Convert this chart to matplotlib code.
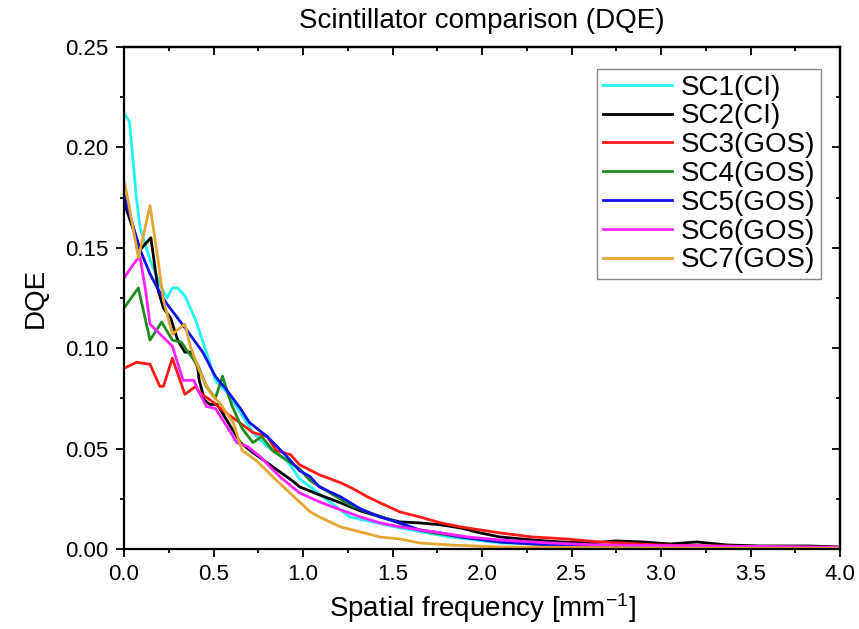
import matplotlib
matplotlib.use("Agg")
import matplotlib.pyplot as plt
from matplotlib.ticker import MultipleLocator

plt.rcParams.update({
    'font.family': ['Liberation Sans', 'DejaVu Sans'],
    'mathtext.default': 'regular',
})

# values
sc1_f = [0.0, 0.03, 0.07, 0.09, 0.145, 0.21, 0.24, 0.27, 0.30, 0.34, 0.40, 0.46, 0.51, 0.575, 0.65,
         0.72, 0.80, 0.91, 0.98, 1.26, 1.54, 1.82, 2.10, 2.66, 3.2, 4.0]
sc1_d = [0.217, 0.213, 0.174, 0.160, 0.144, 0.130, 0.125, 0.130, 0.130, 0.126, 0.114, 0.098, 0.084, 0.078, 0.068,
         0.058, 0.051, 0.044, 0.035, 0.016, 0.0105, 0.006, 0.003, 0.0015, 0.001, 0.0008]

sc2_f = [0.0, 0.01, 0.09, 0.15, 0.19, 0.22, 0.26, 0.30, 0.34, 0.37, 0.41, 0.42, 0.45, 0.48, 0.52, 0.575,
         0.65, 0.72, 0.83, 0.94, 0.98, 1.09, 1.21, 1.32, 1.43, 1.54, 1.65, 1.77, 1.88, 1.99, 2.10, 2.28,
         2.44, 2.60, 2.75, 2.90, 3.05, 3.20, 3.37, 3.55, 3.83, 4.0]
sc2_d = [0.176, 0.170, 0.149, 0.155, 0.129, 0.120, 0.115, 0.104, 0.098, 0.098, 0.091, 0.084, 0.074, 0.072, 0.072, 0.064,
         0.053, 0.048, 0.041, 0.034, 0.031, 0.027, 0.023, 0.019, 0.016, 0.0135, 0.013, 0.012, 0.0105, 0.008, 0.006, 0.0045,
         0.0035, 0.003, 0.004, 0.0035, 0.0025, 0.0035, 0.002, 0.0015, 0.0015, 0.001]

sc3_f = [0.0, 0.07, 0.145, 0.20, 0.22, 0.27, 0.34, 0.40, 0.42, 0.50, 0.55, 0.63, 0.72, 0.80, 0.85, 0.93,
         0.98, 1.09, 1.21, 1.28, 1.36, 1.43, 1.54, 1.65, 1.77, 1.88, 1.99, 2.10, 2.28, 2.47, 2.66, 2.99, 3.5, 4.0]
sc3_d = [0.090, 0.093, 0.092, 0.081, 0.081, 0.095, 0.077, 0.081, 0.078, 0.073, 0.069, 0.064, 0.058, 0.056, 0.049, 0.047,
         0.042, 0.037, 0.033, 0.030, 0.026, 0.023, 0.0185, 0.016, 0.013, 0.011, 0.0095, 0.008, 0.006, 0.005, 0.0035, 0.002, 0.0012, 0.0008]

sc4_f = [0.0, 0.08, 0.145, 0.21, 0.27, 0.32, 0.35, 0.41, 0.46, 0.51, 0.55, 0.60, 0.66, 0.72, 0.77, 0.83,
         0.93, 0.98, 1.04, 1.15, 1.26, 1.37, 1.49, 1.60, 1.73, 1.88, 2.10, 2.38, 3.0, 4.0]
sc4_d = [0.120, 0.130, 0.104, 0.113, 0.104, 0.103, 0.099, 0.092, 0.081, 0.075, 0.086, 0.072, 0.060, 0.053, 0.056, 0.049,
         0.043, 0.040, 0.034, 0.028, 0.022, 0.018, 0.0145, 0.0105, 0.008, 0.006, 0.0035, 0.002, 0.001, 0.0005]

sc5_f = [0.0, 0.09, 0.145, 0.21, 0.24, 0.35, 0.44, 0.51, 0.575, 0.65, 0.70, 0.80, 0.91, 0.98, 1.04, 1.09,
         1.21, 1.32, 1.43, 1.54, 1.65, 1.77, 1.88, 2.10, 2.38, 3.0, 4.0]
sc5_d = [0.176, 0.149, 0.137, 0.126, 0.122, 0.109, 0.098, 0.086, 0.079, 0.070, 0.063, 0.056, 0.046, 0.039, 0.036, 0.031,
         0.026, 0.020, 0.016, 0.013, 0.0095, 0.008, 0.006, 0.0035, 0.002, 0.001, 0.0005]

sc6_f = [0.0, 0.07, 0.09, 0.12, 0.145, 0.27, 0.33, 0.39, 0.42, 0.46, 0.51, 0.575, 0.63, 0.69, 0.76, 0.87,
         0.98, 1.09, 1.21, 1.32, 1.43, 1.54, 1.73, 1.92, 2.10, 2.38, 2.66, 3.2, 3.6, 4.0]
sc6_d = [0.135, 0.144, 0.145, 0.129, 0.112, 0.101, 0.084, 0.084, 0.078, 0.071, 0.070, 0.061, 0.053, 0.051, 0.046, 0.036,
         0.028, 0.0235, 0.0195, 0.016, 0.013, 0.011, 0.0085, 0.006, 0.0045, 0.003, 0.002, 0.0015, 0.0012, 0.0008]

sc7_f = [0.0, 0.02, 0.08, 0.145, 0.19, 0.22, 0.27, 0.34, 0.37, 0.42, 0.48, 0.54, 0.61, 0.66, 0.74, 0.83,
         0.98, 1.04, 1.09, 1.21, 1.32, 1.43, 1.54, 1.65, 1.82, 2.10, 3.0, 4.0]
sc7_d = [0.183, 0.175, 0.145, 0.171, 0.144, 0.124, 0.107, 0.112, 0.101, 0.089, 0.078, 0.072, 0.063, 0.049, 0.044, 0.036,
         0.0235, 0.0185, 0.016, 0.011, 0.0085, 0.006, 0.005, 0.003, 0.002, 0.001, 0.0005, 0.0003]

names = ["SC1(CI)", "SC2(CI)", "SC3(GOS)", "SC4(GOS)", "SC5(GOS)", "SC6(GOS)", "SC7(GOS)"]
colors = ["#22F2F2", "black", "#FF1A1A", "#1E8C1E", "#1010E8", "#FF22FF", "#E5A532"]


def main():
    fig = plt.figure(figsize=(8.59, 6.29), dpi=100)
    ax = fig.add_axes([0.1444, 0.1272, 0.8335, 0.7981])

    series = [(sc1_f, sc1_d), (sc2_f, sc2_d), (sc3_f, sc3_d), (sc4_f, sc4_d),
              (sc5_f, sc5_d), (sc6_f, sc6_d), (sc7_f, sc7_d)]
    for (f, d), name, c in zip(series, names, colors):
        ax.plot(f, d, color=c, lw=2.0, label=name)

    ax.set_xlim(0, 4.0)
    ax.set_ylim(0, 0.25)
    ax.xaxis.set_major_locator(MultipleLocator(0.5))
    ax.xaxis.set_minor_locator(MultipleLocator(0.25))
    ax.yaxis.set_major_locator(MultipleLocator(0.05))
    ax.yaxis.set_minor_locator(MultipleLocator(0.025))
    ax.xaxis.set_major_formatter(lambda v, p: "%.1f" % v)
    ax.yaxis.set_major_formatter(lambda v, p: "%.2f" % v)
    ax.tick_params(which='major', direction='out', length=6, width=1.3, labelsize=16, pad=5)
    ax.tick_params(which='minor', direction='out', length=3, width=1.3)
    for s in ax.spines.values():
        s.set_linewidth(1.6)

    # mirrored axes, ticks pointing inwards
    top = ax.secondary_xaxis('top')
    top.xaxis.set_major_locator(MultipleLocator(0.5))
    top.xaxis.set_minor_locator(MultipleLocator(0.25))
    top.tick_params(which='major', direction='in', length=6, width=1.3, labeltop=False)
    top.tick_params(which='minor', direction='in', length=3, width=1.3)
    top.spines['top'].set_linewidth(1.6)
    right = ax.secondary_yaxis('right')
    right.yaxis.set_major_locator(MultipleLocator(0.05))
    right.yaxis.set_minor_locator(MultipleLocator(0.025))
    right.tick_params(which='major', direction='in', length=6, width=1.3, labelright=False)
    right.tick_params(which='minor', direction='in', length=3, width=1.3)
    right.spines['right'].set_linewidth(1.6)

    ax.set_title("Scintillator comparison (DQE)", fontsize=20, pad=14)
    ax.set_xlabel("Spatial frequency [mm$^{-1}$]", fontsize=20, labelpad=4)
    ax.set_ylabel("DQE", fontsize=20, labelpad=12)

    leg = ax.legend(loc='upper right', bbox_to_anchor=(0.973, 0.956), borderaxespad=0,
                    fontsize=20, handlelength=2.5, handletextpad=0.3, labelspacing=0.1,
                    borderpad=0.2, fancybox=False, framealpha=1)
    leg.get_frame().set_edgecolor('#888888')
    leg.get_frame().set_linewidth(1.0)

    fig.savefig("out.png", dpi=100)


if __name__ == '__main__':
    main()
